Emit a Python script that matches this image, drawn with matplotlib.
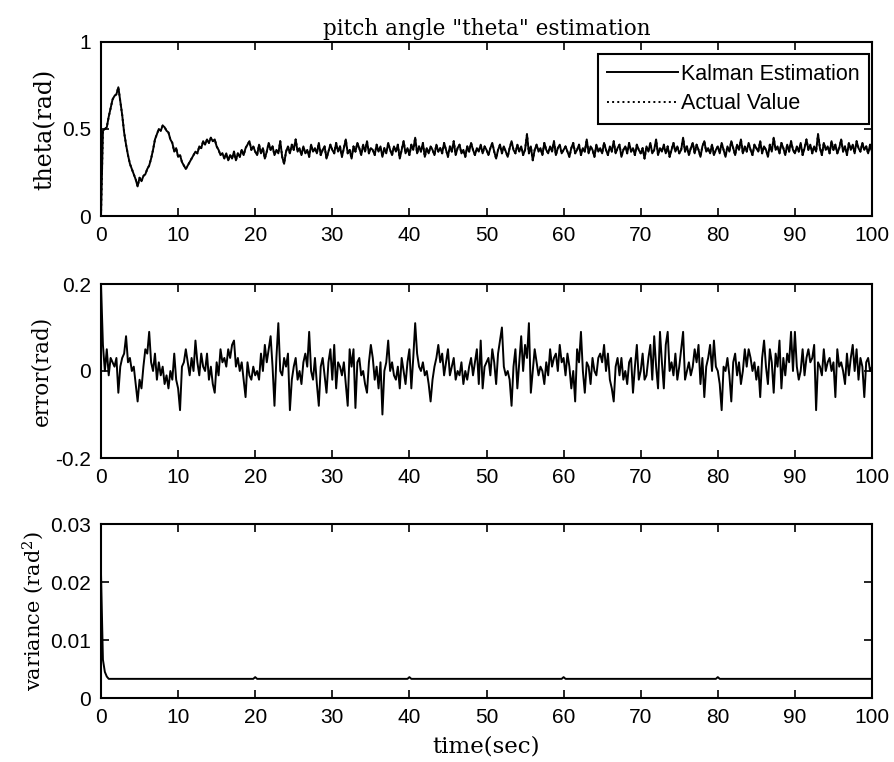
import numpy as np
import matplotlib
matplotlib.use("Agg")
import matplotlib.pyplot as plt

# sample times (s), one sample every 0.25 s
t = np.linspace(0, 100, 401)

# Kalman estimate of pitch angle (rad)
theta_est = [
    0.00, 0.49, 0.50, 0.51, 0.57, 0.62, 0.67, 0.69, 0.70, 0.74, 0.66, 0.58, 0.48, 0.41, 0.35, 0.30, 0.27, 0.24, 0.21, 0.17,
    0.22, 0.20, 0.23, 0.24, 0.27, 0.29, 0.33, 0.38, 0.44, 0.47, 0.50, 0.49, 0.52, 0.51, 0.49, 0.48, 0.44, 0.42, 0.37, 0.39,
    0.34, 0.35, 0.31, 0.29, 0.27, 0.29, 0.31, 0.33, 0.35, 0.37, 0.36, 0.40, 0.39, 0.43, 0.41, 0.44, 0.42, 0.45, 0.43, 0.44,
    0.40, 0.38, 0.35, 0.36, 0.33, 0.36, 0.32, 0.35, 0.33, 0.37, 0.32, 0.36, 0.34, 0.38, 0.35, 0.39, 0.41, 0.43, 0.38, 0.40,
    0.37,
    0.35, 0.41, 0.36, 0.39, 0.33, 0.37, 0.42, 0.38, 0.40, 0.35, 0.38, 0.36, 0.43, 0.34, 0.30, 0.37, 0.40, 0.36, 0.41, 0.38,
    0.44, 0.37, 0.39, 0.35, 0.40, 0.36, 0.38, 0.34, 0.41, 0.37, 0.39, 0.36, 0.42, 0.35, 0.38, 0.40, 0.33, 0.37, 0.41, 0.38,
    0.36, 0.42, 0.37, 0.40, 0.34, 0.39, 0.44, 0.36, 0.38, 0.33, 0.40, 0.37, 0.42, 0.39, 0.35, 0.41, 0.37, 0.43, 0.36, 0.39,
    0.38, 0.35, 0.41, 0.37, 0.40, 0.34, 0.39, 0.36, 0.42, 0.38, 0.35, 0.40, 0.37, 0.41, 0.33, 0.38, 0.43, 0.36, 0.39, 0.35,
    0.41, 0.38, 0.45, 0.36, 0.40, 0.37, 0.42, 0.34, 0.39, 0.36, 0.40, 0.38, 0.35, 0.41, 0.37, 0.39, 0.36, 0.42, 0.38, 0.34,
    0.40, 0.37, 0.43, 0.35, 0.39, 0.41, 0.36, 0.38, 0.34, 0.40, 0.37, 0.42, 0.38, 0.35, 0.39, 0.37, 0.41, 0.36, 0.40, 0.38,
    0.35, 0.39, 0.42, 0.37, 0.33, 0.38, 0.41, 0.36, 0.40, 0.37, 0.34, 0.39, 0.43, 0.38, 0.36, 0.41, 0.37, 0.40, 0.35, 0.38,
    0.47, 0.36, 0.40, 0.32, 0.38, 0.41, 0.37, 0.39, 0.35, 0.42, 0.38, 0.36, 0.40, 0.37, 0.43, 0.35, 0.39, 0.41, 0.36, 0.38,
    0.40, 0.37, 0.34, 0.39, 0.42, 0.36, 0.38, 0.41, 0.35, 0.39, 0.37, 0.44, 0.36, 0.40, 0.38, 0.34, 0.41, 0.37, 0.39, 0.36,
    0.42, 0.38, 0.35, 0.40, 0.37, 0.43, 0.36, 0.39, 0.41, 0.34, 0.38, 0.40, 0.36, 0.42, 0.37, 0.39, 0.35, 0.41, 0.38, 0.36,
    0.39, 0.33, 0.40, 0.37, 0.42, 0.36, 0.38, 0.44, 0.35, 0.39, 0.37, 0.41, 0.36, 0.40, 0.34, 0.38, 0.42, 0.37, 0.40, 0.36,
    0.38, 0.45, 0.37, 0.40, 0.35, 0.39, 0.42, 0.36, 0.41, 0.38, 0.34, 0.40, 0.43, 0.37, 0.39, 0.36, 0.41, 0.35, 0.38, 0.40,
    0.36, 0.42, 0.38, 0.34, 0.40, 0.37, 0.43, 0.39, 0.35, 0.41, 0.38, 0.44, 0.36, 0.40, 0.37, 0.42, 0.38, 0.35, 0.41, 0.39,
    0.37, 0.43, 0.36, 0.40, 0.38, 0.34, 0.41, 0.37, 0.45, 0.38, 0.40, 0.36, 0.42, 0.39, 0.35, 0.41, 0.37, 0.43, 0.38, 0.36,
    0.40, 0.37, 0.42, 0.35, 0.39, 0.44, 0.38, 0.41, 0.36, 0.40, 0.37, 0.47, 0.39, 0.35, 0.42, 0.38, 0.40, 0.36, 0.43, 0.38,
    0.41, 0.36, 0.39, 0.44, 0.37, 0.40, 0.35, 0.42, 0.38, 0.41, 0.36, 0.43, 0.39, 0.37, 0.42, 0.38, 0.40, 0.36, 0.41, 0.37,
]
# actual value is hidden under the estimate in the original
theta_actual = theta_est

# estimation error (rad)
error = [
    0.20, 0.06, 0.00, 0.05, -0.01, 0.03, 0.02, 0.01, 0.03, -0.05, 0.01, 0.03, 0.04, 0.08, 0.02, 0.03, 0.00, 0.01, -0.03, -0.07,
    -0.02, -0.04, 0.01, 0.05, 0.04, 0.09, 0.02, 0.00, 0.04, -0.02, 0.02, -0.01, 0.01, -0.03, -0.01, -0.04, 0.00, -0.02, 0.04, -0.02,
    -0.04, -0.09, 0.01, 0.02, 0.05, 0.02, -0.01, 0.03, 0.00, 0.07, 0.02, -0.01, 0.04, 0.01, 0.00, 0.04, -0.02, 0.01, -0.03, -0.05,
    0.02, -0.01, 0.05, 0.02, 0.03, 0.01, 0.05, 0.03, 0.06, 0.07, 0.01, 0.03, 0.00, 0.02, -0.02, -0.06, 0.02, -0.01, -0.02, 0.01,
    -0.01, 0.00, -0.02, 0.04, 0.00, 0.06, 0.02, 0.05, 0.08, 0.01, -0.08, 0.03, 0.11, 0.00, -0.01, 0.03, 0.01, 0.04, -0.09, -0.02,
    0.01, 0.03, -0.02, 0.00, -0.03, 0.02, 0.04, 0.01, 0.09, 0.00, -0.02, 0.03, -0.03, -0.08, 0.01, 0.03, -0.01, -0.05, 0.02, 0.05,
    -0.02, 0.06, -0.04, 0.02, 0.01, -0.01, 0.02, -0.03, -0.08, 0.05, 0.01, 0.05, -0.085, 0.02, 0.03, -0.01, 0.00, -0.03, -0.05, 0.02,
    0.06, 0.03, -0.02, 0.01, -0.04, 0.02, -0.10, 0.00, 0.02, 0.07, 0.00, 0.02, -0.01, -0.02, 0.01, -0.04, 0.03, 0.00, -0.03, 0.02,
    0.05, -0.04, 0.03, 0.11, 0.04, 0.01, 0.00, 0.02, -0.01, 0.00, -0.03, -0.07, -0.02, 0.01, 0.03, 0.06, 0.02, 0.04, -0.01, 0.02,
    0.05, -0.01, 0.01, 0.03, -0.02, 0.00, -0.01, 0.02, -0.03, 0.00, -0.02, 0.01, 0.03, -0.01, 0.02, 0.05, -0.03, 0.07, -0.04, 0.01,
    0.02, 0.03, -0.01, 0.05, 0.02, -0.03, 0.04, 0.07, 0.10, 0.01, -0.01, 0.00, -0.02, -0.08, 0.01, 0.05, -0.04, 0.02, 0.08, 0.00,
    0.06, 0.03, 0.11, -0.05, 0.00, 0.05, 0.02, -0.01, 0.01, 0.00, -0.03, 0.02, -0.01, 0.05, 0.01, 0.03, 0.04, 0.00, 0.06, 0.02,
    0.03, -0.01, 0.04, 0.01, -0.04, 0.00, -0.07, 0.05, 0.02, 0.09, 0.00, -0.05, 0.02, 0.01, -0.03, 0.03, 0.00, -0.01, 0.03, 0.04,
    0.02, 0.06, 0.00, 0.04, -0.02, -0.04, -0.07, 0.01, 0.03, -0.01, 0.03, -0.02, 0.00, -0.03, 0.02, 0.03, -0.05, 0.01, 0.06, -0.02,
    0.00, 0.04, -0.02, -0.01, 0.03, 0.06, -0.02, 0.08, 0.01, -0.04, 0.09, 0.02, -0.04, 0.06, 0.09, 0.00, 0.02, -0.01, 0.04, -0.02,
    0.01, 0.05, 0.09, -0.02, 0.00, 0.02, -0.01, 0.01, 0.05, 0.02, 0.06, -0.03, 0.03, -0.06, 0.01, 0.03, 0.06, 0.00, 0.07, 0.01,
    0.00, -0.03, -0.09, 0.01, 0.00, 0.03, -0.01, -0.07, 0.02, 0.04, -0.01, 0.02, -0.03, 0.00, 0.05, 0.01, 0.05, 0.03, 0.00, 0.02,
    -0.02, 0.01, -0.06, 0.03, 0.07, 0.01, -0.03, 0.05, 0.02, -0.05, 0.04, 0.01, 0.07, -0.04, 0.03, -0.01, 0.04, 0.02, 0.09, 0.00,
    0.09, 0.01, -0.02, 0.00, 0.05, -0.01, 0.03, 0.05, 0.02, 0.03, 0.06, -0.09, 0.02, 0.01, -0.01, 0.05, 0.00, 0.02, 0.03, 0.00,
    0.02, -0.06, 0.05, 0.01, 0.02, 0.00, -0.03, 0.04, -0.01, 0.03, 0.06, 0.00, 0.05, -0.02, 0.03, 0.01, -0.06, 0.02, 0.03, 0.00,
    0.01,
]

# error variance (rad^2), read at the points where it changes
var_t = [0, 0.25, 0.5, 0.75, 1.0, 19.75, 20.0, 20.25, 39.75, 40.0, 40.25,
         59.75, 60.0, 60.25, 79.75, 80.0, 80.25, 100]
variance = [0.0215, 0.0066, 0.0045, 0.0037, 0.0033, 0.0033, 0.0036, 0.0033, 0.0033, 0.0036, 0.0033,
            0.0033, 0.0036, 0.0033, 0.0033, 0.0036, 0.0033, 0.0033]

xticks = [0, 10, 20, 30, 40, 50, 60, 70, 80, 90, 100]

serif = "DejaVu Serif"
sans = "Liberation Sans"
plt.rcParams["mathtext.fontset"] = "dejavuserif"

fig = plt.figure(figsize=(8.95, 7.62), dpi=100)
left, width, height = 101 / 895, 771 / 895, 174 / 762
ax1 = fig.add_axes([left, 1 - 216 / 762, width, height])
ax2 = fig.add_axes([left, 1 - 458 / 762, width, height])
ax3 = fig.add_axes([left, 1 - 698 / 762, width, height])

lw = 1.4
ax1.plot(t, theta_actual, color="black", lw=lw, ls=":", label="Actual Value")
ax1.plot(t, theta_est, color="black", lw=lw, label="Kalman Estimation")
ax2.plot(t, error, color="black", lw=lw)
ax3.plot(var_t, variance, color="black", lw=lw)

ax1.set_ylim(0, 1)
ax1.set_yticks([0, 0.5, 1])
ax1.set_yticklabels(["0", "0.5", "1"])
ax2.set_ylim(-0.2, 0.2)
ax2.set_yticks([-0.2, 0, 0.2])
ax2.set_yticklabels(["-0.2", "0", "0.2"])
ax3.set_ylim(0, 0.03)
ax3.set_yticks([0, 0.01, 0.02, 0.03])
ax3.set_yticklabels(["0", "0.01", "0.02", "0.03"])

for ax in (ax1, ax2, ax3):
    ax.set_xlim(0, 100)
    ax.set_xticks(xticks)
    ax.set_xticklabels([str(x) for x in xticks])
    ax.tick_params(direction="in", top=True, right=True, length=6, width=1.2,
                   labelsize=15, pad=7)
    for lab in ax.get_xticklabels() + ax.get_yticklabels():
        lab.set_family(sans)
    for sp in ax.spines.values():
        sp.set_linewidth(1.5)

ax1.set_title('pitch angle "theta" estimation', family=serif, fontsize=15.5, pad=5)
ax1.set_ylabel("theta(rad)", family=serif, fontsize=17, labelpad=4)
ax2.set_ylabel("error(rad)", family=serif, fontsize=15.5, labelpad=2)
ax3.set_ylabel("variance (rad$^2$)", family=serif, fontsize=15, labelpad=3)
ax3.set_xlabel("time(sec)", family=serif, fontsize=16.5, labelpad=6)

handles, labels = ax1.get_legend_handles_labels()
leg = ax1.legend(handles[::-1], labels[::-1], loc="upper right",
                 bbox_to_anchor=(0.996, 0.931), borderaxespad=0,
                 prop={"family": sans, "size": 15.5}, fancybox=False,
                 edgecolor="black", framealpha=1, handlelength=3.3,
                 handletextpad=0.1, borderpad=0.45, labelspacing=0.4)
leg.get_frame().set_linewidth(1.5)

fig.savefig("out.png", dpi=100)
